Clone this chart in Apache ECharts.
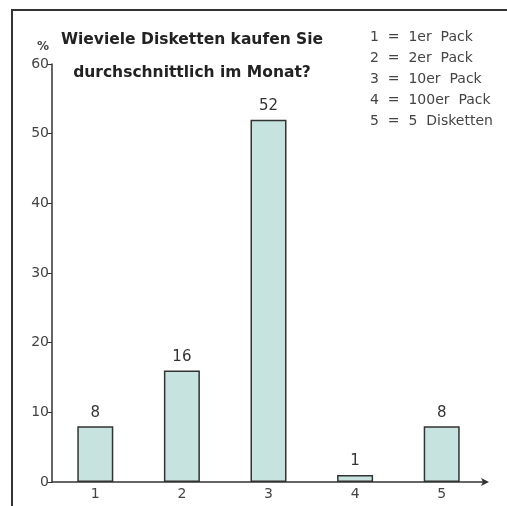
<!DOCTYPE html>
<html><head><meta charset="utf-8">
<script src="https://cdn.jsdelivr.net/npm/echarts@6/dist/echarts.min.js"></script>
<style>html,body{margin:0;padding:0;background:#fff}#c{width:507px;height:506px}</style>
</head><body><div id="c"></div>
<script>
const categories = ['1','2','3','4','5'];
const values = [8, 16, 52, 1, 8];
const legendLines = ['1  =  1er  Pack','2  =  2er  Pack','3  =  10er  Pack','4  =  100er  Pack','5  =  5  Disketten'];
const titleLines = ['Wieviele Disketten kaufen Sie','durchschnittlich im Monat?'];

const chart = echarts.init(document.getElementById('c'), null, {renderer:'canvas'});
const font = '"DejaVu Sans", sans-serif';
const graphics = [
  {type:'polyline', shape:{points:[[12,506],[12,10],[507,10]]}, style:{stroke:'#333', lineWidth:2, fill:null}},
  {type:'text', left:37, top:41, style:{text:'%', font:'bold 12px '+font, fill:'#444'}}
];
titleLines.forEach((t,i)=>graphics.push({type:'text', x:192, y:40+i*33, style:{text:t, font:'bold 15.5px '+font, fill:'#222', textAlign:'center', textVerticalAlign:'middle'}}));
legendLines.forEach((t,i)=>graphics.push({type:'text', x:370, y:37+i*21, style:{text:t, font:'14px '+font, fill:'#444', textVerticalAlign:'middle'}}));

chart.setOption({
  animation:false,
  grid:{left:52, right:22, top:64, bottom:24},
  xAxis:{type:'category', data:categories,
    axisLine:{lineStyle:{color:'#333', width:1.5}, symbol:['none','arrow'], symbolSize:[6,8], symbolOffset:[0,4]},
    axisTick:{alignWithLabel:true, length:4, inside:false, lineStyle:{color:'#333'}},
    axisLabel:{color:'#444', fontSize:14, margin:5, fontFamily:font}},
  yAxis:{type:'value', min:0, max:60, interval:10,
    axisLine:{show:true, lineStyle:{color:'#333', width:1.5}},
    axisTick:{show:true, length:5, lineStyle:{color:'#333'}},
    axisLabel:{color:'#444', fontSize:14, margin:3, fontFamily:font},
    splitLine:{show:false}},
  series:[{type:'bar', data:values, barWidth:36,
    itemStyle:{color:'#c6e3df', borderColor:'#333', borderWidth:1.5},
    label:{show:true, position:'top', color:'#333', fontSize:15, fontFamily:font, distance:6}}],
  graphic:graphics
});
</script></body></html>
